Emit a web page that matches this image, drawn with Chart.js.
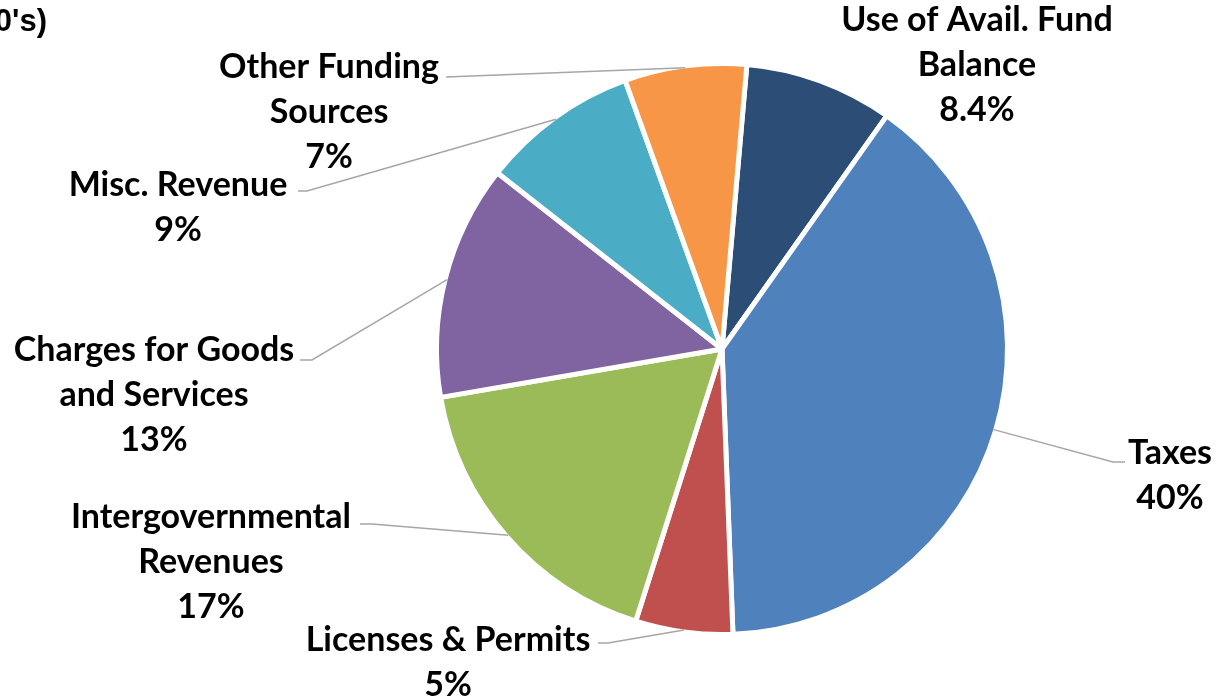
<!DOCTYPE html>
<html>
<head>
<meta charset="utf-8">
<script src="https://cdn.jsdelivr.net/npm/chart.js@4"></script>
<style>
  html, body { margin: 0; padding: 0; background: #fff; }
  #wrap { width: 1216px; height: 700px; position: relative; }
</style>
</head>
<body>
<div id="wrap"><canvas id="revPie" width="1216" height="700"></canvas></div>
<script>
// revenue shares (percent), clockwise from 12 o'clock
var categories = ["Use of Avail. Fund Balance", "Taxes", "Licenses & Permits", "Intergovernmental Revenues",
                  "Charges for Goods and Services", "Misc. Revenue", "Other Funding Sources"];
var shares = [8.4, 39.6, 5.5, 17.4, 13.3, 8.9, 6.9];
var pctLabels = ["8.4%", "40%", "5%", "17%", "13%", "9%", "7%"];
var labelLines = [
    ["Use of Avail. Fund", "Balance"],
    ["Taxes"],
    ["Licenses & Permits"],
    ["Intergovernmental", "Revenues"],
    ["Charges for Goods", "and Services"],
    ["Misc. Revenue"],
    ["Other Funding", "Sources"]
];
var colors = ['#2c4d75', '#4f81bd', '#c0504d', '#9bbb59', '#8064a2', '#4bacc6', '#f79646'];

// where the label blocks sit (text centre x, first line y) and where each leader line ends
var labelSpots = [[977, 20], [1170, 453], [448, 640], [211, 517], [154, 350], [178, 185], [329, 67]];
var leaderEnds = [null, [[1113, 462], [1125, 462]], [[608, 643], [598, 643]], [[372, 524], [360, 524]],
                  [[312, 360], [300, 360]], [[307, 191], [298, 191]], [[446, 77], [446, 77]]];

var lineGap = 45;

var outsideLabels = {
    id: 'outsideLabels',
    afterDraw: function(chart) {
        var ctx = chart.ctx;
        var arcs = chart.getDatasetMeta(0).data;
        ctx.save();
        // leaders first
        ctx.strokeStyle = '#a6a6a6';
        ctx.lineWidth = 1.5;
        arcs.forEach(function(arc, i) {
            if (!leaderEnds[i]) return;
            var mid = (arc.startAngle + arc.endAngle) / 2;
            var r = arc.outerRadius - 2;
            ctx.beginPath();
            ctx.moveTo(arc.x + Math.cos(mid) * r, arc.y + Math.sin(mid) * r);
            leaderEnds[i].forEach(function(p) { ctx.lineTo(p[0], p[1]); });
            ctx.stroke();
        });
        ctx.fillStyle = '#000';
        ctx.font = 'bold 34px Lato';
        ctx.textAlign = 'center';
        ctx.textBaseline = 'middle';
        arcs.forEach(function(arc, i) {
            var lines = labelLines[i].concat([pctLabels[i]]);
            lines.forEach(function(t, k) {
                ctx.fillText(t, labelSpots[i][0], labelSpots[i][1] + k * lineGap);
            });
        });
        // title, mostly cut off at the left edge
        ctx.font = 'bold 31px "Liberation Sans"';
        ctx.textAlign = 'right';
        ctx.textBaseline = 'alphabetic';
        ctx.fillText("Revenues ($000's)", 47, 31);
        ctx.restore();
    }
};

var ctx = document.getElementById('revPie').getContext('2d');
var chart = new Chart(ctx, {
    type: 'pie',
    data: {
        labels: categories,
        datasets: [{
            data: shares,
            backgroundColor: colors,
            borderColor: '#ffffff',
            borderWidth: 5
        }]
    },
    options: {
        responsive: false,
        animation: false,
        rotation: 5,
        layout: { padding: { left: 434, right: 206, top: 61, bottom: 63 } },
        plugins: {
            legend: { display: false },
            tooltip: { enabled: false }
        }
    },
    plugins: [outsideLabels]
});
</script>
</body>
</html>
